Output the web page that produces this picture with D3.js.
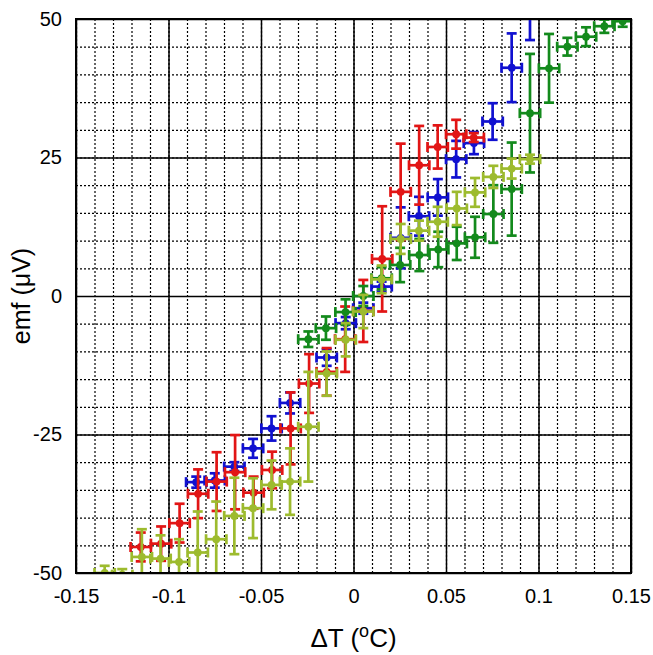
<!DOCTYPE html>
<html>
<head>
<meta charset="utf-8">
<script src="https://cdn.jsdelivr.net/npm/d3@7"></script>
<style>
  body { margin: 0; background: #fff; }
  text { font-family: "Liberation Sans", Arial, sans-serif; fill: #000; }
</style>
</head>
<body>
<script>
var margin = {top: 19, right: 22, bottom: 82, left: 76}
  , width = 653 - margin.left - margin.right
  , height = 655 - margin.top - margin.bottom;

// data: dT (degC), emf (uV), emf error (uV)
var redDT  = [-0.115, -0.104, -0.094, -0.084, -0.074, -0.064, -0.054, -0.044, -0.034, -0.024, -0.0145, -0.0045, 0.0053, 0.0155, 0.0255, 0.0355, 0.0455, 0.0555, 0.065];
var redEmf = [-45.3, -44.7, -41.0, -35.7, -33.5, -31.8, -35.5, -31.4, -23.9, -15.8, -13.7, -7.8, -2.7, 6.7, 18.8, 23.6, 26.9, 29.2, 28.6];
var redErr = [2.6, 3.1, 3.5, 4.4, 5.3, 6.7, 2.9, 3.3, 6.5, 5.3, 4.3, 5.9, 5.6, 9.5, 8.7, 7.1, 3.9, 2.6, 0.8];

var blueDT  = [-0.085, -0.075, -0.0644, -0.0543, -0.0443, -0.0343, -0.0145, -0.0042, 0.0053, 0.0152, 0.0255, 0.0354, 0.0456, 0.0555, 0.0651, 0.0752, 0.0855, 0.0954];
var blueEmf = [-33.6, -33.3, -30.8, -27.5, -23.9, -19.3, -11.1, -4.9, -2.2, 1.7, 10.5, 14.4, 17.8, 24.7, 27.6, 31.5, 41.2, 55];
var blueErr = [1.0, 1.3, 0.8, 1.7, 2.2, 1.9, 1.5, 1.1, 1.0, 0.9, 5.5, 3.5, 3.3, 3.3, 2.0, 3.3, 6.2, 8.8];

var greenDT  = [-0.0244, -0.0149, -0.0043, 0.0053, 0.0152, 0.0252, 0.0356, 0.0458, 0.0558, 0.0657, 0.0756, 0.0855, 0.0954, 0.1057, 0.1156, 0.1257, 0.1356, 0.1455];
var greenEmf = [-7.8, -5.8, -2.9, 0.0, 3.2, 5.6, 7.4, 8.4, 9.5, 10.6, 14.8, 19.3, 33.0, 41.1, 45.0, 46.8, 48.7, 49.6];
var greenErr = [1.4, 2.1, 2.3, 1.8, 2.0, 3.1, 2.9, 3.2, 3.0, 3.7, 5.2, 8.4, 10.7, 6.2, 1.6, 1.7, 1.2, 1.0];

var limeDT  = [-0.1345, -0.125, -0.1144, -0.1043, -0.0943, -0.0842, -0.0742, -0.0644, -0.0543, -0.0443, -0.0343, -0.0244, -0.0145, -0.0042, 0.0053, 0.0152, 0.0255, 0.0354, 0.0455, 0.0558, 0.0657, 0.0756, 0.0855, 0.0954];
var limeEmf = [-50.0, -50.3, -47.1, -47.4, -48.0, -46.3, -43.9, -39.7, -38.3, -34.1, -33.5, -23.6, -14.0, -7.9, -2.8, 3.0, 10.3, 11.8, 13.4, 15.8, 18.7, 21.5, 23.0, 24.7];
var limeErr = [1.3, 1.0, 5.0, 4.2, 4.1, 7.4, 6.8, 6.9, 5.4, 4.4, 6.0, 9.9, 4.0, 3.0, 3.0, 2.5, 2.7, 1.8, 2.7, 3.0, 2.6, 2.0, 1.8, 0.8];

var dtErr = 0.0055; // same horizontal error on every point

var xTicks = [-0.15, -0.1, -0.05, 0, 0.05, 0.1, 0.15];
var yTicks = [-50, -25, 0, 25, 50];

// drawing order as in the picture: blue first, light green last
var series = [
    {dt: blueDT,  emf: blueEmf,  err: blueErr,  color: "#1010d0"},
    {dt: redDT,   emf: redEmf,   err: redErr,   color: "#e21515"},
    {dt: greenDT, emf: greenEmf, err: greenErr, color: "#138a1c"},
    {dt: limeDT,  emf: limeEmf,  err: limeErr,  color: "#9dbb2e"}
];

var svg = d3.select("body").append("svg")
    .attr("width", width + margin.left + margin.right)
    .attr("height", height + margin.top + margin.bottom)
    .append("g")
    .attr("transform", "translate(" + margin.left + "," + margin.top + ")");

var xScale = d3.scaleLinear().domain([-0.15, 0.15]).range([0, width]);
var yScale = d3.scaleLinear().domain([-50, 50]).range([height, 0]);

// minor dotted grid
svg.append("g")
    .attr("transform", "translate(0," + height + ")")
    .call(d3.axisBottom(xScale).ticks(30).tickSize(-height).tickFormat(""))
    .call(g => g.select(".domain").remove())
    .selectAll("line")
    .attr("stroke", "#000").attr("stroke-width", 1.2).attr("stroke-dasharray", "2,2");

svg.append("g")
    .call(d3.axisLeft(yScale).ticks(20).tickSize(-width).tickFormat(""))
    .call(g => g.select(".domain").remove())
    .selectAll("line")
    .attr("stroke", "#000").attr("stroke-width", 1.2).attr("stroke-dasharray", "2,2");

// major solid grid
svg.append("g")
    .attr("transform", "translate(0," + height + ")")
    .call(d3.axisBottom(xScale).tickValues(xTicks).tickSize(-height).tickFormat(""))
    .call(g => g.select(".domain").remove())
    .selectAll("line")
    .attr("stroke", "#000").attr("stroke-width", 1.5);

svg.append("g")
    .call(d3.axisLeft(yScale).tickValues(yTicks).tickSize(-width).tickFormat(""))
    .call(g => g.select(".domain").remove())
    .selectAll("line")
    .attr("stroke", "#000").attr("stroke-width", 1.5);

// error bars and points, clipped to the frame
svg.append("clipPath").attr("id", "plotClip")
    .append("rect").attr("width", width).attr("height", height);

var plot = svg.append("g").attr("clip-path", "url(#plotClip)");
var cap = 5;

series.forEach(function(s) {
    var pts = s.dt.map(function(d, i) { return {dt: d, emf: s.emf[i], err: s.err[i]}; });
    var g = plot.append("g")
        .attr("stroke", s.color)
        .attr("fill", s.color)
        .attr("stroke-width", 2.7);

    var pt = g.selectAll("g").data(pts).enter().append("g");

    // vertical bar
    pt.append("line")
        .attr("x1", d => xScale(d.dt)).attr("x2", d => xScale(d.dt))
        .attr("y1", d => yScale(d.emf - d.err)).attr("y2", d => yScale(d.emf + d.err));
    pt.append("line")
        .attr("x1", d => xScale(d.dt) - cap).attr("x2", d => xScale(d.dt) + cap)
        .attr("y1", d => yScale(d.emf - d.err)).attr("y2", d => yScale(d.emf - d.err));
    pt.append("line")
        .attr("x1", d => xScale(d.dt) - cap).attr("x2", d => xScale(d.dt) + cap)
        .attr("y1", d => yScale(d.emf + d.err)).attr("y2", d => yScale(d.emf + d.err));

    // horizontal bar
    pt.append("line")
        .attr("x1", d => xScale(d.dt - dtErr)).attr("x2", d => xScale(d.dt + dtErr))
        .attr("y1", d => yScale(d.emf)).attr("y2", d => yScale(d.emf));
    pt.append("line")
        .attr("x1", d => xScale(d.dt - dtErr)).attr("x2", d => xScale(d.dt - dtErr))
        .attr("y1", d => yScale(d.emf) - cap).attr("y2", d => yScale(d.emf) + cap);
    pt.append("line")
        .attr("x1", d => xScale(d.dt + dtErr)).attr("x2", d => xScale(d.dt + dtErr))
        .attr("y1", d => yScale(d.emf) - cap).attr("y2", d => yScale(d.emf) + cap);

    pt.append("circle")
        .attr("cx", d => xScale(d.dt)).attr("cy", d => yScale(d.emf))
        .attr("r", 3.9).attr("stroke", "none");
});

// frame
svg.append("rect")
    .attr("width", width).attr("height", height)
    .attr("fill", "none").attr("stroke", "#000").attr("stroke-width", 2);

// tick labels
svg.append("g")
    .attr("transform", "translate(0," + height + ")")
    .call(d3.axisBottom(xScale).tickValues(xTicks).tickSize(0).tickPadding(16)
        .tickFormat(d => String(+d.toFixed(2))))
    .call(g => g.select(".domain").remove())
    .selectAll("text")
    .style("font-size", "20px");

svg.append("g")
    .call(d3.axisLeft(yScale).tickValues(yTicks).tickSize(0).tickPadding(14)
        .tickFormat(d => String(d)))
    .call(g => g.select(".domain").remove())
    .selectAll("text")
    .style("font-size", "20px");

// axis titles
var xTitle = svg.append("text")
    .attr("text-anchor", "middle")
    .attr("x", width / 2)
    .attr("y", height + 74)
    .style("font-size", "26px");
xTitle.append("tspan").text("\u0394T (");
xTitle.append("tspan").attr("dy", -10).style("font-size", "18px").text("o");
xTitle.append("tspan").attr("dy", 10).text("C)");

svg.append("text")
    .attr("text-anchor", "middle")
    .attr("transform", "translate(" + (-46) + "," + (height / 2) + ")rotate(-90)")
    .style("font-size", "25px")
    .text("emf (\u03bcV)");
</script>
</body>
</html>
